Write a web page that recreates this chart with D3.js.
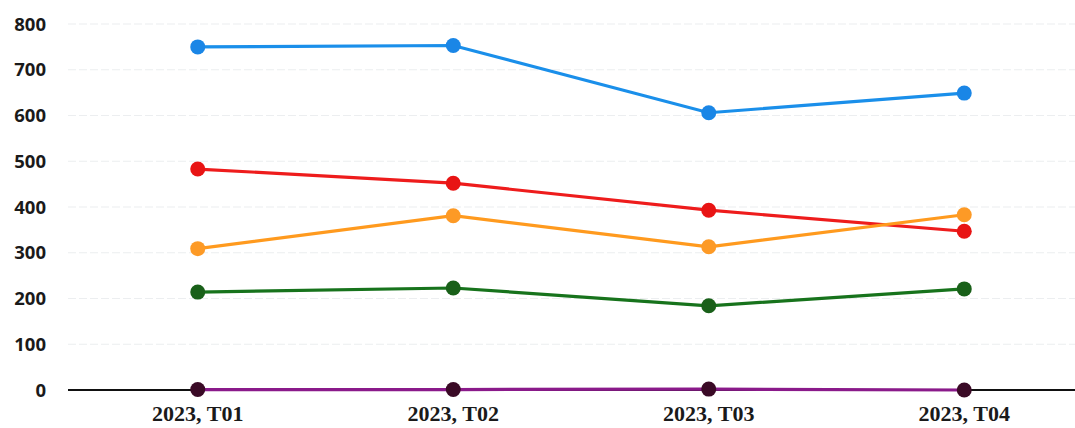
<!DOCTYPE html>
<html><head><meta charset="utf-8">
<script src="https://cdn.jsdelivr.net/npm/d3@7"></script>
<style>body{margin:0;background:#fff}</style>
</head><body>
<svg id="c" width="1075" height="428"></svg>
<script>
const categories = ["2023, T01", "2023, T02", "2023, T03", "2023, T04"];
const yTicks = [0, 100, 200, 300, 400, 500, 600, 700, 800];
const blueValues = [750, 753, 606, 649];
const redValues = [483, 452, 393, 347];
const orangeValues = [309, 381, 313, 383];
const greenValues = [214, 223, 184, 221];
const purpleValues = [1, 1, 2, 0];

const series = [
  {name: "blue", values: blueValues, line: "#1a8fea", dot: "#1a86e6"},
  {name: "red", values: redValues, line: "#ee1c1c", dot: "#e81414"},
  {name: "orange", values: orangeValues, line: "#ff9a1e", dot: "#fd9a26"},
  {name: "green", values: greenValues, line: "#17731c", dot: "#196019"},
  {name: "purple", values: purpleValues, line: "#8a1a8a", dot: "#3a0a26"}
];

const svg = d3.select("#c");
const x = d3.scalePoint().domain(categories).range([70, 1092]).padding(0.5);
const y = d3.scaleLinear().domain([0, 800]).range([390, 24]);

// gridlines
svg.append("g").selectAll("line").data(yTicks.filter(d => d > 0)).join("line")
  .attr("x1", 68).attr("x2", 1075)
  .attr("y1", d => y(d)).attr("y2", d => y(d))
  .attr("stroke", "#eceef0").attr("stroke-width", 1.2).attr("stroke-dasharray", "8,3");

// y labels
svg.append("g").selectAll("text").data(yTicks).join("text")
  .attr("x", 46).attr("y", d => y(d)).attr("dy", "0.36em")
  .attr("text-anchor", "end")
  .attr("font-family", "Open Sans, sans-serif").attr("font-weight", "bold")
  .attr("font-size", 18.5).attr("fill", "#1a1a1a")
  .text(d => d);

// zero axis
svg.append("line").attr("x1", 68).attr("x2", 1075)
  .attr("y1", y(0)).attr("y2", y(0)).attr("stroke", "#111").attr("stroke-width", 2);

// x labels
svg.append("g").selectAll("text").data(categories).join("text")
  .attr("x", d => x(d)).attr("y", 421)
  .attr("text-anchor", "middle")
  .attr("font-family", "Liberation Serif, serif").attr("font-weight", "bold")
  .attr("font-size", 22).attr("fill", "#1a1a1a")
  .text(d => d);

const line = d3.line().x((d, i) => x(categories[i])).y(d => y(d));
series.forEach(s => {
  const g = svg.append("g");
  g.append("path").datum(s.values).attr("d", line)
    .attr("fill", "none").attr("stroke", s.line).attr("stroke-width", 3.2);
  g.selectAll("circle").data(s.values).join("circle")
    .attr("cx", (d, i) => x(categories[i])).attr("cy", d => y(d))
    .attr("r", 7.5).attr("fill", s.dot);
});
</script>
</body></html>
